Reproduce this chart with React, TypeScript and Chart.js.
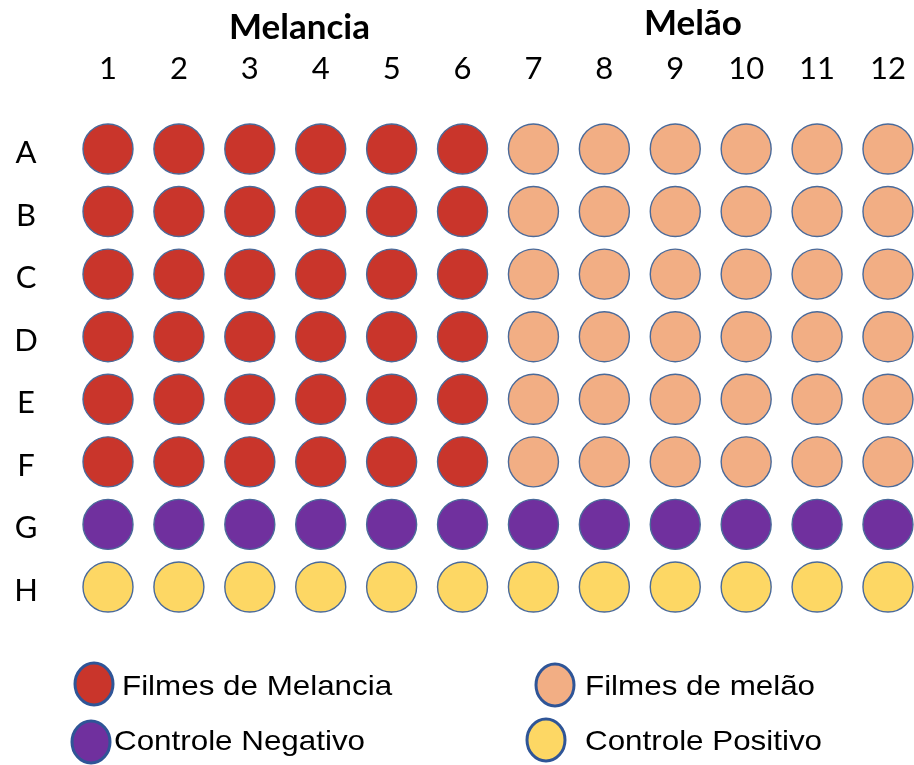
import React, { useEffect, useRef } from 'react';
import { Chart, registerables } from 'chart.js';

Chart.register(...registerables);

// ---- data ----
const COLUMN_LABELS = ['1', '2', '3', '4', '5', '6', '7', '8', '9', '10', '11', '12'];
const ROW_LABELS = ['A', 'B', 'C', 'D', 'E', 'F', 'G', 'H'];
const GROUP_TITLES = ['Melancia', 'Melão'];
const MELANCIA_COLUMNS = [1, 2, 3, 4, 5, 6];
const MELAO_COLUMNS = [7, 8, 9, 10, 11, 12];
const ALL_COLUMNS = [1, 2, 3, 4, 5, 6, 7, 8, 9, 10, 11, 12];
const FILM_ROWS = ['A', 'B', 'C', 'D', 'E', 'F'];
const NEGATIVE_ROWS = ['G'];
const POSITIVE_ROWS = ['H'];
const SERIES_LABELS = ['Filmes de Melancia', 'Filmes de melão', 'Controle Negativo', 'Controle Positivo'];

// ---- styles ----
const COLORS = ['#C9352B', '#F2AE84', '#70309E', '#FDD764'];
const WELL_BORDER = '#4A6A9A';
const LEGEND_BORDER = '#2F5597';
// title anchor (in column units) for each group title
const TITLE_ANCHOR = [3.7, 9.25];
// legend layout: [markerX, markerY, textX, textBaselineY] for each series
const LEGEND_LAYOUT = [
  [94, 684, 122, 695],
  [555, 685, 585, 695],
  [91, 742, 114, 750],
  [546, 740, 585, 750],
];

function wells(rows: string[], cols: number[]) {
  const pts: { x: number; y: number }[] = [];
  rows.forEach((r) => cols.forEach((c) => pts.push({ x: c, y: ROW_LABELS.indexOf(r) })));
  return pts;
}

const platePlugin = {
  id: 'platePlugin',
  afterDraw(chart: any) {
    const ctx = chart.ctx as CanvasRenderingContext2D;
    const xs = chart.scales.x;
    const ys = chart.scales.y;
    ctx.save();
    ctx.fillStyle = '#000';
    // group titles
    ctx.font = 'bold 35px Lato';
    ctx.textAlign = 'center';
    ctx.textBaseline = 'alphabetic';
    ctx.fillText(GROUP_TITLES[0], xs.getPixelForValue(TITLE_ANCHOR[0]), 39);
    ctx.fillText(GROUP_TITLES[1], xs.getPixelForValue(TITLE_ANCHOR[1]), 35);
    // column labels
    ctx.font = '31px Lato';
    COLUMN_LABELS.forEach((lab, i) => {
      ctx.fillText(lab, xs.getPixelForValue(i + 1), 79);
    });
    // row labels
    ROW_LABELS.forEach((lab, i) => {
      ctx.fillText(lab, 26, ys.getPixelForValue(i) + 14);
    });
    // legend
    chart.data.datasets.forEach((ds: any, i: number) => {
      const [mx, my, tx, ty] = LEGEND_LAYOUT[i];
      ctx.beginPath();
      ctx.ellipse(mx, my, 19, 21, 0, 0, Math.PI * 2);
      ctx.fillStyle = ds.backgroundColor;
      ctx.fill();
      ctx.lineWidth = 3;
      ctx.strokeStyle = LEGEND_BORDER;
      ctx.stroke();
      ctx.save();
      ctx.translate(tx, ty);
      ctx.scale(1.12, 1);
      ctx.font = '28px "Liberation Sans"';
      ctx.textAlign = 'left';
      ctx.fillStyle = '#000';
      ctx.fillText(ds.label, 0, 0);
      ctx.restore();
    });
    ctx.restore();
  },
};

export default function App() {
  const ref = useRef<HTMLCanvasElement>(null);
  useEffect(() => {
    if (!ref.current) return;
    const seriesPoints = [
      wells(FILM_ROWS, MELANCIA_COLUMNS),
      wells(FILM_ROWS, MELAO_COLUMNS),
      wells(NEGATIVE_ROWS, ALL_COLUMNS),
      wells(POSITIVE_ROWS, ALL_COLUMNS),
    ];
    const chart = new Chart(ref.current, {
      type: 'scatter',
      data: {
        datasets: SERIES_LABELS.map((label, i) => ({
          label,
          data: seriesPoints[i],
          backgroundColor: COLORS[i],
          borderColor: WELL_BORDER,
          borderWidth: 1.4,
          pointRadius: 25,
          pointHoverRadius: 25,
        })),
      },
      options: {
        animation: false,
        responsive: false,
        clip: false as any,
        layout: { padding: 0, autoPadding: false },
        plugins: { legend: { display: false }, tooltip: { enabled: false } },
        events: [],
        scales: {
          x: { type: 'linear', display: false, min: -0.5231, max: 12.367 },
          y: { type: 'linear', display: false, reverse: true, min: -2.381, max: 9.845 },
        },
      },
      plugins: [platePlugin],
    });
    return () => chart.destroy();
  }, []);
  return (
    <div style={{ position: 'absolute', left: 0, top: 0, width: 914, height: 765, background: '#fff' }}>
      <canvas ref={ref} width={914} height={765} />
    </div>
  );
}
